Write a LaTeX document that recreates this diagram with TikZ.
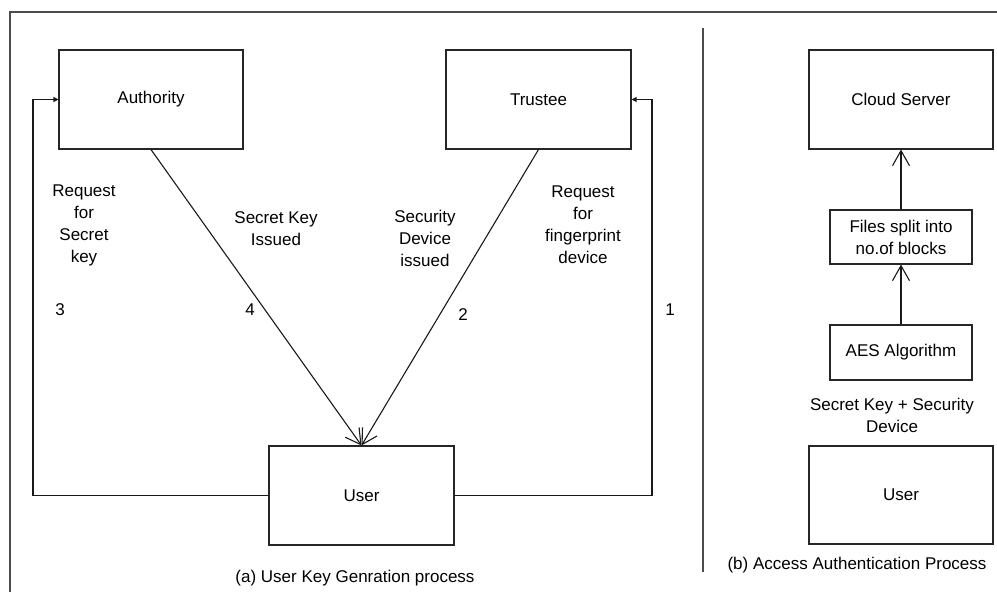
\documentclass[tikz,border=0pt]{standalone}
\usepackage{fontspec}
\setmainfont{Liberation Sans}
\usetikzlibrary{arrows.meta}
\begin{document}
\begin{tikzpicture}[x=1pt,y=-1pt,
  box/.style={draw=black!85, line width=1.1pt, inner sep=0pt, font=\fontsize{17}{22}\selectfont, align=center},
  lbl/.style={font=\fontsize{17}{22}\selectfont, align=center, inner sep=0pt},
  frame/.style={draw=black!70, line width=2pt},
  conn/.style={draw=black!90, line width=1.1pt},
  vhead/.style={conn, -{Straight Barb[length=15pt,width=17pt,line width=1.1pt]}},
  shead/.style={conn, -{Triangle[length=5pt,width=5pt]}}]
\useasboundingbox (0,0) rectangle (997,592);
% frame and divider
\draw[frame] (10,592) -- (10,12) -- (997,12);
\draw[frame, line width=1.5pt] (703,28) -- (703,572);
% (a) boxes
\node[box, minimum width=184pt, minimum height=99pt] (auth) at (151,99.5) {Authority};
\node[box, minimum width=185pt, minimum height=99pt] (trus) at (538.5,99.5) {Trustee};
\node[box, minimum width=185pt, minimum height=99pt] (user) at (361.5,495.5) {User};
\coordinate (lx) at (33,0);
\coordinate (rx) at (652,0);
\draw[vhead] (auth.south) -- (user.north);
\draw[vhead] (trus.south) -- (user.north);
\draw[shead] (user.west) -- (user.west -| lx) |- (auth.west);
\draw[shead] (user.east) -- (user.east -| rx) |- (trus.east);
% labels (a)
\node[lbl] (l3) at (84,225) {Request\\for\\Secret\\key};
\node[lbl] (n3) at (60,310) {3};
\node[lbl] (l4) at (276,229) {Secret Key\\Issued};
\node[lbl] (n4) at (250,310) {4};
\node[lbl] (l2) at (425,238) {Security\\Device\\issued};
\node[lbl] (n2) at (463,315) {2};
\node[lbl] (l1) at (583,225) {Request\\for\\fingerprint\\device};
\node[lbl] (n1) at (670,310) {1};
\node[lbl] (capa) at (355,578) {(a) User Key Genration process};
% (b)
\node[box, minimum width=184pt, minimum height=99pt] (cloud) at (901,99.5) {Cloud Server};
\node[box, minimum width=142pt, minimum height=54pt] (files) at (901,237) {Files split into\\no.of blocks};
\node[box, minimum width=142pt, minimum height=55pt] (aes) at (901,352.5) {AES Algorithm};
\node[lbl] (sk) at (892,415) {Secret Key + Security\\Device};
\node[box, minimum width=184pt, minimum height=98pt] (user2) at (901,495) {User};
\draw[vhead] (files.north) -- (cloud.south);
\draw[vhead] (aes.north) -- (files.south);
\node[lbl] (capb) at (857,565) {(b) Access Authentication Process};
\end{tikzpicture}
\end{document}
